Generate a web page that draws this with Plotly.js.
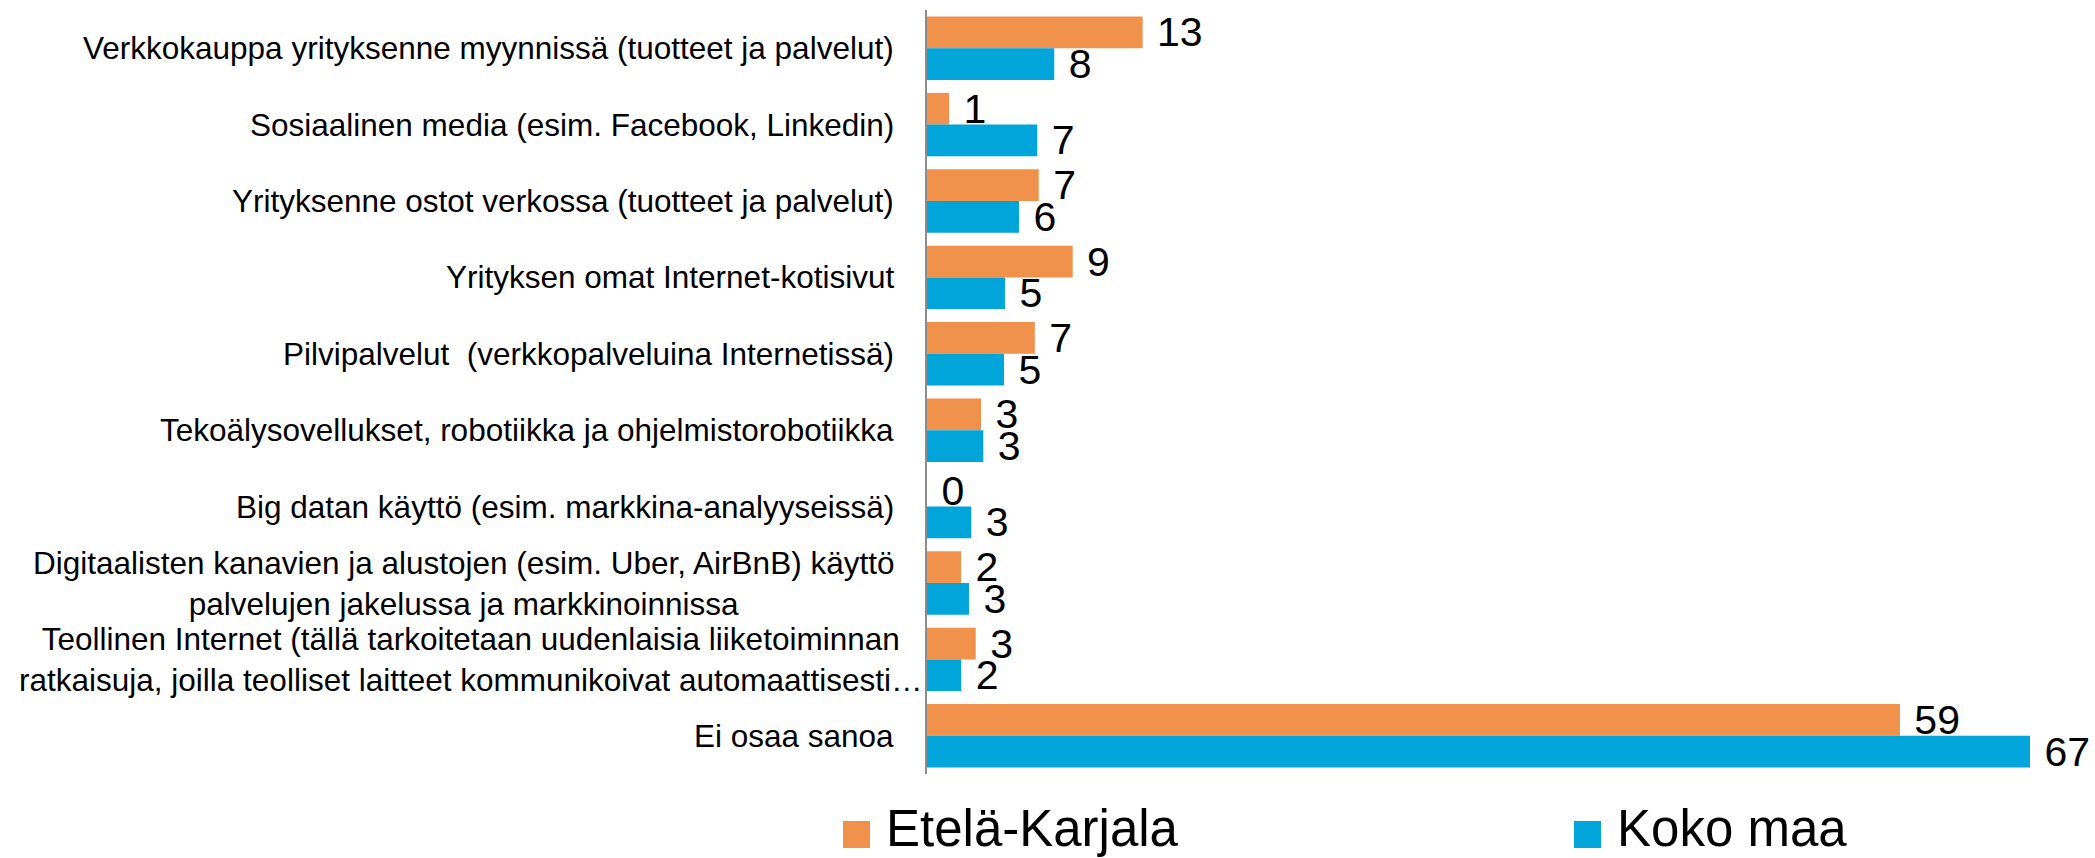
<!DOCTYPE html>
<html>
<head>
<meta charset="utf-8">
<script src="https://cdn.plot.ly/plotly-3.0.1.min.js"></script>
<style>html,body{margin:0;padding:0;background:#fff;}#chart{width:2095px;height:858px;}</style>
</head>
<body>
<div id="chart"></div>
<script>
const categories = [
  "Verkkokauppa yrityksenne myynnissä (tuotteet ja palvelut)",
  "Sosiaalinen media (esim. Facebook, Linkedin)",
  "Yrityksenne ostot verkossa (tuotteet ja palvelut)",
  "Yrityksen omat Internet-kotisivut",
  "Pilvipalvelut  (verkkopalveluina Internetissä)",
  "Tekoälysovellukset, robotiikka ja ohjelmistorobotiikka",
  "Big datan käyttö (esim. markkina-analyyseissä)",
  "Digitaalisten kanavien ja alustojen (esim. Uber, AirBnB) käyttö palvelujen jakelussa ja markkinoinnissa",
  "Teollinen Internet (tällä tarkoitetaan uudenlaisia liiketoiminnan ratkaisuja, joilla teolliset laitteet kommunikoivat automaattisesti…",
  "Ei osaa sanoa"
];
const categoryLabels = [
  "Verkkokauppa yrityksenne myynnissä (tuotteet ja palvelut)",
  "Sosiaalinen media (esim. Facebook, Linkedin)",
  "Yrityksenne ostot verkossa (tuotteet ja palvelut)",
  "Yrityksen omat Internet-kotisivut",
  "Pilvipalvelut \u00a0(verkkopalveluina Internetissä)",
  "Tekoälysovellukset, robotiikka ja ohjelmistorobotiikka",
  "Big datan käyttö (esim. markkina-analyyseissä)",
  "Digitaalisten kanavien ja alustojen (esim. Uber, AirBnB) käyttö<br>palvelujen jakelussa ja markkinoinnissa",
  "Teollinen Internet (tällä tarkoitetaan uudenlaisia liiketoiminnan<br>ratkaisuja, joilla teolliset laitteet kommunikoivat automaattisesti…",
  "Ei osaa sanoa"
];
const seriesNames = ["Etelä-Karjala", "Koko maa"];
const seriesColors = ["#F0924B", "#02A5DA"];
const eteläKarjala = [13.1, 1.34, 6.79, 8.85, 6.55, 3.28, 0, 2.07, 2.96, 59.1];
const kokoMaa = [7.73, 6.7, 5.59, 4.74, 4.68, 3.42, 2.69, 2.55, 2.08, 67.0];

const FONT = "Liberation Sans, Arial, sans-serif";

function barTrace(vals, i) {
  return {
    type: "bar",
    orientation: "h",
    y: categories,
    x: vals,
    name: seriesNames[i],
    marker: {color: seriesColors[i], line: {width: 0}},
    texttemplate: "\u00a0%{x:.0f}",
    textposition: "outside",
    constraintext: "none",
    cliponaxis: false,
    outsidetextfont: {family: FONT, size: 41, color: "#000"},
    hoverinfo: "x+name"
  };
}

const data = [barTrace(eteläKarjala, 0), barTrace(kokoMaa, 1)];

const annotations = categories.map((c, i) => ({
  xref: "x", yref: "y",
  x: 0, y: c,
  xanchor: "right", yanchor: "middle",
  xshift: i === 8 ? -3 : -31,
  align: "center",
  showarrow: false,
  text: categoryLabels[i],
  font: {family: FONT, size: 31.5, color: "#000"}
}));

// legend (drawn large, as in the reference)
const W = 2095, H = 858, ML = 927, MR = 65, MT = 10, MB = 84;
const pw = W - ML - MR, ph = H - MT - MB;
const px = v => (v - ML) / pw;
const py = v => (H - MB - v) / ph;
const legendX = [843, 1574];
const shapes = [];
seriesNames.forEach((n, i) => {
  shapes.push({
    type: "rect", xref: "paper", yref: "paper",
    x0: px(legendX[i]), x1: px(legendX[i] + 27),
    y0: py(848), y1: py(821),
    fillcolor: seriesColors[i], line: {width: 0}
  });
  annotations.push({
    xref: "paper", yref: "paper",
    x: px(legendX[i] + 41), y: py(829),
    xanchor: "left", yanchor: "middle",
    showarrow: false, text: n,
    font: {family: FONT, size: 51, color: "#000"}
  });
});

const layout = {
  width: W, height: H,
  margin: {l: ML, r: MR, t: MT, b: MB},
  paper_bgcolor: "#fff", plot_bgcolor: "#fff",
  barmode: "group", bargap: 0.17, bargroupgap: 0,
  showlegend: false,
  font: {family: FONT, color: "#000"},
  xaxis: {range: [0, 67.0], showgrid: false, zeroline: false, showline: false,
          showticklabels: false, ticks: "", fixedrange: true},
  yaxis: {type: "category", autorange: "reversed", showgrid: false, zeroline: false,
          showline: true, linecolor: "#8c8c8c", linewidth: 2, ticks: "",
          showticklabels: false, fixedrange: true},
  annotations: annotations,
  shapes: shapes
};

Plotly.newPlot("chart", data, layout, {displayModeBar: false, staticPlot: true});
</script>
</body>
</html>
